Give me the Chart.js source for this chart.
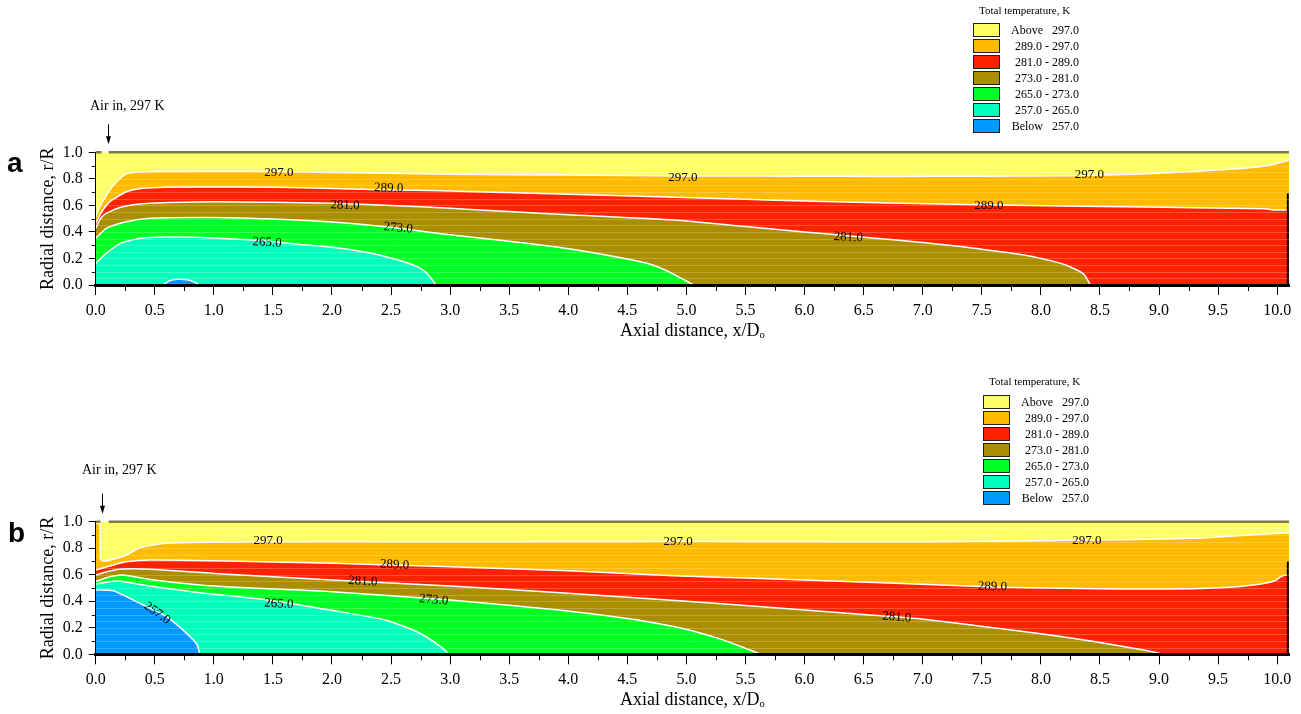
<!DOCTYPE html>
<html lang="en">
<head>
<meta charset="UTF-8">
<title>Total temperature contours</title>
<script src="https://cdn.jsdelivr.net/npm/chart.js"></script>
<style>
  body { margin: 0; background: #fff; width: 1301px; height: 714px; position: relative; overflow: hidden;
         font-family: "Liberation Serif", "Times New Roman", serif; color: #000; }
  .panel { position: absolute; left: 0; width: 1301px; height: 357px; }
  .tag { position: absolute; font-family: "Liberation Sans", Arial, sans-serif; font-weight: bold; font-size: 28px; line-height: 28px; }
  .note { position: absolute; font-size: 14px; line-height: 14px; white-space: nowrap; }
  .ltitle { position: absolute; font-size: 11px; line-height: 12px; white-space: nowrap; }
  .lbox { position: absolute; width: 25px; height: 12px; border: 1px solid #222; }
  .ltext { position: absolute; font-size: 12px; line-height: 14px; white-space: pre; text-align: right; width: 80px; }
</style>
</head>
<body>

<div class="panel" style="top:0"><canvas id="chartA" width="1301" height="357"></canvas></div>
<div class="panel" style="top:357px"><canvas id="chartB" width="1301" height="357"></canvas></div>

<div class="tag" style="left:7px;top:149px">a</div>
<div class="tag" style="left:8px;top:519px">b</div>
<div class="note" style="left:90px;top:99px">Air in, 297 K</div>
<div class="note" style="left:82px;top:463px">Air in, 297 K</div>

<script>
// tick labels
const xTickLabels = ['0.0','0.5','1.0','1.5','2.0','2.5','3.0','3.5','4.0','4.5','5.0',
                     '5.5','6.0','6.5','7.0','7.5','8.0','8.5','9.0','9.5','10.0'];
const yTickLabels = ['0.0','0.2','0.4','0.6','0.8','1.0'];
const levelNames = ['Above   297.0','289.0 - 297.0','281.0 - 289.0','273.0 - 281.0',
                    '265.0 - 273.0','257.0 - 265.0','Below   257.0'];

// panel a contour lines (x/Do, r/R)
const a297x = [0, 0.04, 0.12, 0.18, 0.26, 0.38, 1.0, 1.5, 2.0, 3.0, 4.0, 5.0, 6.0, 6.7, 7.5, 8.3, 8.8, 9.35, 9.72, 9.94, 10.1];
const a297r = [0.515, 0.60, 0.716, 0.78, 0.837, 0.854, 0.857, 0.855, 0.848, 0.835, 0.828, 0.822, 0.82, 0.818, 0.82, 0.823, 0.835, 0.859, 0.879, 0.904, 0.94];
const a289x = [0, 0.05, 0.12, 0.26, 0.40, 0.6, 1.0, 1.5, 2.0, 2.5, 2.92, 4.0, 4.9, 5.5, 6.0, 6.7, 7.6, 8.5, 9.3, 9.9, 9.98, 10.1];
const a289r = [0.465, 0.55, 0.628, 0.703, 0.729, 0.737, 0.739, 0.737, 0.728, 0.716, 0.711, 0.684, 0.661, 0.646, 0.633, 0.618, 0.603, 0.592, 0.582, 0.575, 0.565, 0.565];
const a281x = [0, 0.04, 0.09, 0.23, 0.46, 1.0, 1.5, 2.0, 2.5, 3.0, 3.5, 4.0, 4.9, 5.5, 6.0, 6.5, 7.0, 7.32, 7.6, 7.88, 8.1, 8.22, 8.36, 8.42];
const a281r = [0.427, 0.50, 0.54, 0.59, 0.616, 0.628, 0.624, 0.616, 0.60, 0.578, 0.553, 0.53, 0.489, 0.44, 0.40, 0.36, 0.32, 0.291, 0.258, 0.223, 0.18, 0.147, 0.084, 0];
const a273x = [0, 0.09, 0.26, 0.46, 1.0, 1.5, 2.0, 2.5, 2.92, 3.5, 3.9, 4.2, 4.49, 4.7, 4.83, 4.94, 5.0, 5.06];
const a273r = [0.352, 0.427, 0.477, 0.503, 0.508, 0.497, 0.475, 0.435, 0.387, 0.33, 0.286, 0.245, 0.197, 0.155, 0.109, 0.058, 0.03, 0];
const a265x = [0, 0.09, 0.21, 0.38, 0.60, 1.0, 1.4, 1.73, 2.0, 2.30, 2.55, 2.72, 2.80, 2.86, 2.88];
const a265r = [0.163, 0.239, 0.314, 0.352, 0.362, 0.355, 0.335, 0.305, 0.285, 0.245, 0.19, 0.138, 0.09, 0.025, 0];
const a257x = [0.57, 0.62, 0.69, 0.77, 0.83, 0.88];
const a257r = [0, 0.03, 0.043, 0.04, 0.025, 0];

// panel b contour lines
const b297x = [0, 0.035, 0.04, 0.06, 0.12, 0.26, 0.38, 0.6, 1.0, 1.45, 2.0, 3.0, 4.0, 5.0, 6.0, 6.5, 7.5, 8.17, 8.8, 9.3, 9.6, 9.86, 10.1];
const b297r = [0.99, 0.98, 0.72, 0.705, 0.711, 0.749, 0.806, 0.837, 0.845, 0.849, 0.85, 0.849, 0.85, 0.852, 0.85, 0.848, 0.852, 0.859, 0.866, 0.875, 0.89, 0.905, 0.915];
const b289x = [0, 0.12, 0.26, 0.46, 1.0, 2.0, 3.0, 4.0, 4.89, 5.5, 6.0, 6.71, 7.6, 8.2, 8.73, 9.3, 9.6, 9.78, 9.92, 9.98, 10.03, 10.07, 10.1];
const b289r = [0.636, 0.666, 0.698, 0.711, 0.706, 0.686, 0.661, 0.63, 0.593, 0.575, 0.56, 0.537, 0.508, 0.498, 0.492, 0.495, 0.505, 0.52, 0.54, 0.555, 0.585, 0.597, 0.60];
const b281x = [0, 0.12, 0.23, 0.46, 1.0, 2.0, 3.0, 4.0, 5.0, 6.0, 6.5, 7.0, 7.6, 8.0, 8.45, 8.87, 9.0, 9.02];
const b281r = [0.598, 0.628, 0.643, 0.641, 0.61, 0.56, 0.515, 0.46, 0.40, 0.335, 0.30, 0.265, 0.20, 0.155, 0.096, 0.033, 0.008, 0];
const b273x = [0, 0.12, 0.23, 0.46, 1.0, 2.0, 3.0, 3.9, 4.5, 4.89, 5.1, 5.31, 5.5, 5.63];
const b273r = [0.55, 0.585, 0.598, 0.565, 0.515, 0.472, 0.41, 0.336, 0.27, 0.21, 0.165, 0.109, 0.045, 0];
const b265x = [0, 0.18, 0.46, 0.88, 1.45, 2.01, 2.44, 2.72, 2.92, 2.99];
const b265r = [0.53, 0.553, 0.515, 0.465, 0.41, 0.33, 0.26, 0.17, 0.058, 0];
const b257x = [0, 0.15, 0.26, 0.43, 0.60, 0.77, 0.86, 0.88];
const b257r = [0.485, 0.48, 0.435, 0.36, 0.284, 0.158, 0.07, 0];

// contour labels: text, x, r, angle (deg)
const aLabelText  = ['297.0','297.0','297.0','289.0','289.0','281.0','281.0','273.0','265.0'];
const aLabelX     = [1.55, 4.97, 8.41, 2.48, 7.56, 2.11, 6.37, 2.56, 1.45];
const aLabelR     = [0.85, 0.81, 0.83, 0.73, 0.60, 0.60, 0.36, 0.43, 0.32];
const aLabelAngle = [0, 0, 0, 2, 0, 2, 3, 5, 3];
const bLabelText  = ['297.0','297.0','297.0','289.0','289.0','281.0','281.0','273.0','265.0','257.0'];
const bLabelX     = [1.46, 4.93, 8.39, 2.53, 7.59, 2.26, 6.78, 2.86, 1.55, 0.52];
const bLabelR     = [0.855, 0.85, 0.855, 0.675, 0.51, 0.55, 0.28, 0.41, 0.38, 0.31];
const bLabelAngle = [0, 0, 0, 3, 1, 3, 4, 5, 3, 35];

// inlet gap on the top wall, wall top on the right, arrow position
const inletA = [0.05, 0.11], inletB = [0.04, 0.11];
const wallTopA = 0.69, wallTopB = 0.70;
const arrowA = 0.105, arrowB = 0.053;

const palette = ['#ffff66', '#ffbb00', '#ff2200', '#ab8e00', '#00ff22', '#00ffbb', '#0099ff'];
const SERIF = '"Liberation Serif", "Times New Roman", serif';
Chart.defaults.font.family = SERIF;
Chart.defaults.color = '#000';

function pts(xs, rs) { return xs.map((x, i) => ({ x: x, y: rs[i] })); }

const decor = {
  id: 'decor',
  afterDatasetsDraw(chart, args, opts) {
    const { ctx, chartArea: a, scales: { x, y } } = chart;
    ctx.save();
    ctx.beginPath(); ctx.rect(a.left, a.top, a.right - a.left, a.bottom - a.top); ctx.clip();
    ctx.strokeStyle = 'rgba(255,255,255,0.22)'; ctx.lineWidth = 1;
    for (let r = 0.05; r < 0.99; r += 0.05) {
      const py = Math.round(y.getPixelForValue(r)) + 0.5;
      ctx.beginPath(); ctx.moveTo(a.left, py); ctx.lineTo(a.right, py); ctx.stroke();
    }
    ctx.restore();
    ctx.save();
    ctx.font = '13px ' + SERIF; ctx.fillStyle = '#000';
    ctx.textAlign = 'center'; ctx.textBaseline = 'middle';
    opts.text.forEach((t, i) => {
      ctx.save();
      ctx.translate(x.getPixelForValue(opts.xs[i]), y.getPixelForValue(opts.rs[i]));
      ctx.rotate(opts.angles[i] * Math.PI / 180);
      ctx.fillText(t, 0, 0);
      ctx.restore();
    });
    ctx.restore();
  },
  afterDraw(chart, args, opts) {
    const { ctx, chartArea: a, scales: { x, y } } = chart;
    ctx.save();
    ctx.strokeStyle = '#000'; ctx.lineWidth = 1;
    for (let v = 0.25; v < 10.1; v += 0.5) {
      const px = Math.round(x.getPixelForValue(v)) + 0.5;
      ctx.beginPath(); ctx.moveTo(px, a.bottom); ctx.lineTo(px, a.bottom + 6); ctx.stroke();
    }
    for (let v = 0.1; v < 1; v += 0.2) {
      const py = Math.round(y.getPixelForValue(v)) + 0.5;
      ctx.beginPath(); ctx.moveTo(a.left - 4, py); ctx.lineTo(a.left, py); ctx.stroke();
    }
    // inlet arrow
    const ax = Math.round(x.getPixelForValue(opts.arrow)) + 0.5;
    ctx.beginPath(); ctx.moveTo(ax, a.top - 28); ctx.lineTo(ax, a.top - 14); ctx.stroke();
    ctx.fillStyle = '#000';
    ctx.beginPath(); ctx.moveTo(ax - 2.5, a.top - 16); ctx.lineTo(ax + 2.5, a.top - 16); ctx.lineTo(ax, a.top - 8); ctx.closePath(); ctx.fill();
    ctx.restore();
  }
};

function makeChart(id, lines, inlet, wallTop, labels, arrowX, pad) {
  const bands = [pts([0, 10.1], [1, 1])].concat(lines);
  const fills = bands.map((d, i) => ({
    data: d, fill: 'origin', backgroundColor: palette[i],
    borderColor: i === 0 ? 'rgba(0,0,0,0)' : '#ffffff', borderWidth: i === 0 ? 0 : 1.5,
    pointRadius: 0, tension: 0.2
  })).reverse();
  const topWall = {
    data: [{ x: 0, y: 1 }, { x: inlet[0], y: 1 }, { x: (inlet[0] + inlet[1]) / 2, y: null }, { x: inlet[1], y: 1 }, { x: 10.1, y: 1 }],
    borderColor: '#7d7b4e', borderWidth: 2.5, pointRadius: 0, fill: false, spanGaps: false, clip: 4
  };
  const rightWall = {
    data: [{ x: 10.09, y: 0 }, { x: 10.09, y: wallTop }],
    borderColor: '#000', borderWidth: 2, pointRadius: 0, fill: false, clip: 4
  };
  return new Chart(document.getElementById(id), {
    type: 'line',
    data: { datasets: [rightWall, topWall].concat(fills) },
    options: {
      responsive: false, animation: false, devicePixelRatio: 1,
      layout: { padding: { top: pad.top, right: 12, bottom: 0, left: 0 } },
      plugins: {
        legend: { display: false }, tooltip: { enabled: false },
        decor: { text: labels[0], xs: labels[1], rs: labels[2], angles: labels[3], arrow: arrowX }
      },
      scales: {
        x: {
          type: 'linear', min: 0, max: 10.1,
          afterBuildTicks: s => { s.ticks = xTickLabels.map(t => ({ value: parseFloat(t) })); },
          afterFit: s => { s.height = pad.xh; },
          ticks: { callback: v => v.toFixed(1), font: { size: 16 }, color: '#000', padding: 6, maxRotation: 0, autoSkip: false },
          grid: { display: true, drawOnChartArea: false, drawTicks: true, tickLength: 10, color: '#000', tickColor: '#000' },
          border: { display: true, color: '#000', width: 3, z: 1 },
          title: { display: true, text: 'Axial distance, x/Dₒ', font: { size: 18 }, color: '#000', padding: { top: 0, bottom: pad.tb } }
        },
        y: {
          type: 'linear', min: 0, max: 1,
          afterBuildTicks: s => { s.ticks = yTickLabels.map(t => ({ value: parseFloat(t) })); },
          afterFit: s => { s.width = 95.7; },
          ticks: { callback: v => v.toFixed(1), font: { size: 16 }, color: '#000', padding: 6 },
          grid: { display: true, drawOnChartArea: false, drawTicks: true, tickLength: 7, color: '#000', tickColor: '#000' },
          border: { display: true, color: '#000', width: 1, z: 1 },
          title: { display: true, text: 'Radial distance, r/R', font: { size: 18 }, color: '#000', padding: { top: 37, bottom: 0 } }
        }
      }
    },
    plugins: [decor]
  });
}

makeChart('chartA',
  [pts(a297x, a297r), pts(a289x, a289r), pts(a281x, a281r), pts(a273x, a273r), pts(a265x, a265r), pts(a257x, a257r)],
  inletA, wallTopA, [aLabelText, aLabelX, aLabelR, aLabelAngle], arrowA,
  { top: 152.3, xh: 72, tb: 15 });
makeChart('chartB',
  [pts(b297x, b297r), pts(b289x, b289r), pts(b281x, b281r), pts(b273x, b273r), pts(b265x, b265r), pts(b257x, b257r)],
  inletB, wallTopB, [bLabelText, bLabelX, bLabelR, bLabelAngle], arrowB,
  { top: 164.7, xh: 59.7, tb: 3 });

// legends
function legend(boxLeft, boxTop, textRight, titleLeft, titleTop) {
  const t = document.createElement('div');
  t.className = 'ltitle'; t.textContent = 'Total temperature, K';
  t.style.left = titleLeft + 'px'; t.style.top = titleTop + 'px';
  document.body.appendChild(t);
  levelNames.forEach((name, i) => {
    const b = document.createElement('div');
    b.className = 'lbox'; b.style.background = palette[i];
    b.style.left = boxLeft + 'px'; b.style.top = (boxTop + 16 * i) + 'px';
    document.body.appendChild(b);
    const s = document.createElement('div');
    s.className = 'ltext'; s.textContent = name;
    s.style.left = (textRight - 80) + 'px'; s.style.top = (boxTop + 16 * i) + 'px';
    document.body.appendChild(s);
  });
}
legend(973, 23.3, 1079, 979, 4.3);
legend(983, 395, 1089, 989, 375.3);
</script>
</body>
</html>
